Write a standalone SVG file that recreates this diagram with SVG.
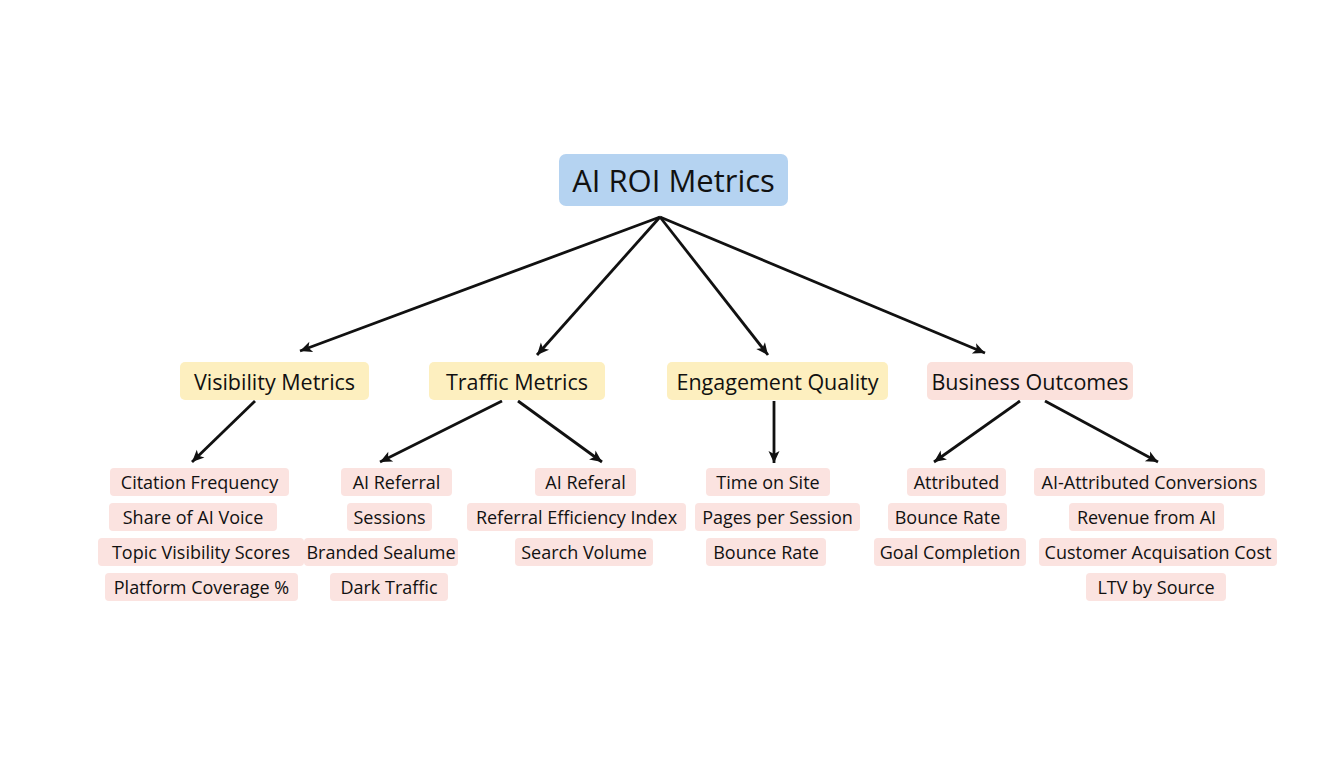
<svg xmlns="http://www.w3.org/2000/svg" width="1344" height="768" viewBox="0 0 1344 768">
<defs>
<marker id="ah" viewBox="0 0 14 14" refX="13" refY="7" markerWidth="14" markerHeight="14" markerUnits="userSpaceOnUse" orient="auto">
<path d="M1,1.5 L13,7 L1,12.5 L4,7 Z" fill="#111"/>
</marker>
<style>
text{font-family:"Open Sans","Noto Sans",sans-serif;fill:#111;text-anchor:middle;dominant-baseline:central}
.root rect{fill:#b5d3f1}
.root text{font-size:31px}
.cat rect{fill:#fdefbf}
.biz rect{fill:#fbe1dc}
.cat text,.biz text{font-size:21.5px}
.leaf rect{fill:#fbe3e0}
.leaf text{font-size:18px}
.edges path{stroke:#111;stroke-width:2.8;fill:none;marker-end:url(#ah)}
</style>
</defs>
<rect width="1344" height="768" fill="#ffffff"/>
<g class="edges" id="connectors">
<path d="M660,217 L300,351"/>
<path d="M660,217 L537,355"/>
<path d="M660,217 L768,355"/>
<path d="M660,217 L985,353"/>
<path d="M255,401 L192,462"/>
<path d="M502,401 L380,462"/>
<path d="M518,401 L602,462"/>
<path d="M774,401 L774,463"/>
<path d="M1020,401 L934,462"/>
<path d="M1045,401 L1158,462"/>
</g>
<g id="root" class="root"><rect x="559" y="154" width="229" height="52" rx="7"/><text x="673.5" y="180">AI ROI Metrics</text></g>
<g id="visibility" class="cat"><rect x="180" y="362" width="189" height="38" rx="5"/><text x="274.5" y="381">Visibility Metrics</text></g>
<g id="traffic" class="cat"><rect x="429" y="362" width="176" height="38" rx="5"/><text x="517" y="381">Traffic Metrics</text></g>
<g id="engagement" class="cat"><rect x="667" y="362" width="221" height="38" rx="5"/><text x="777.5" y="381">Engagement Quality</text></g>
<g id="business" class="biz"><rect x="927" y="362" width="206" height="38" rx="5"/><text x="1030" y="381">Business Outcomes</text></g>
<g id="citation" class="leaf"><rect x="110" y="468" width="179" height="28" rx="4"/><text x="199.5" y="482">Citation Frequency</text></g>
<g id="share" class="leaf"><rect x="109" y="503" width="168" height="28" rx="4"/><text x="193" y="517">Share of AI Voice</text></g>
<g id="topic" class="leaf"><rect x="98" y="538" width="206" height="28" rx="4"/><text x="201" y="552">Topic Visibility Scores</text></g>
<g id="platform" class="leaf"><rect x="105" y="573" width="193" height="28" rx="4"/><text x="201.5" y="587">Platform Coverage %</text></g>
<g id="aireferral" class="leaf"><rect x="341" y="468" width="111" height="28" rx="4"/><text x="396.5" y="482">AI Referral</text></g>
<g id="sessions" class="leaf"><rect x="347" y="503" width="85" height="28" rx="4"/><text x="389.5" y="517">Sessions</text></g>
<g id="branded" class="leaf"><rect x="304" y="538" width="154" height="28" rx="4"/><text x="381" y="552">Branded Sealume</text></g>
<g id="dark" class="leaf"><rect x="330" y="573" width="118" height="28" rx="4"/><text x="389" y="587">Dark Traffic</text></g>
<g id="aireferal" class="leaf"><rect x="535" y="468" width="101" height="28" rx="4"/><text x="585.5" y="482">AI Referal</text></g>
<g id="efficiency" class="leaf"><rect x="467" y="503" width="219" height="28" rx="4"/><text x="576.5" y="517">Referral Efficiency Index</text></g>
<g id="search" class="leaf"><rect x="515" y="538" width="138" height="28" rx="4"/><text x="584" y="552">Search Volume</text></g>
<g id="time" class="leaf"><rect x="706" y="468" width="124" height="28" rx="4"/><text x="768" y="482">Time on Site</text></g>
<g id="pages" class="leaf"><rect x="695" y="503" width="165" height="28" rx="4"/><text x="777.5" y="517">Pages per Session</text></g>
<g id="bounce1" class="leaf"><rect x="706" y="538" width="120" height="28" rx="4"/><text x="766" y="552">Bounce Rate</text></g>
<g id="attributed" class="leaf"><rect x="907" y="468" width="99" height="28" rx="4"/><text x="956.5" y="482">Attributed</text></g>
<g id="bounce2" class="leaf"><rect x="888" y="503" width="119" height="28" rx="4"/><text x="947.5" y="517">Bounce Rate</text></g>
<g id="goal" class="leaf"><rect x="874" y="538" width="152" height="28" rx="4"/><text x="950" y="552">Goal Completion</text></g>
<g id="conversions" class="leaf"><rect x="1034" y="468" width="231" height="28" rx="4"/><text x="1149.5" y="482">AI-Attributed Conversions</text></g>
<g id="revenue" class="leaf"><rect x="1069" y="503" width="155" height="28" rx="4"/><text x="1146.5" y="517">Revenue from AI</text></g>
<g id="cac" class="leaf"><rect x="1039" y="538" width="238" height="28" rx="4"/><text x="1158" y="552">Customer Acquisation Cost</text></g>
<g id="ltv" class="leaf"><rect x="1086" y="573" width="140" height="28" rx="4"/><text x="1156" y="587">LTV by Source</text></g>
</svg>
